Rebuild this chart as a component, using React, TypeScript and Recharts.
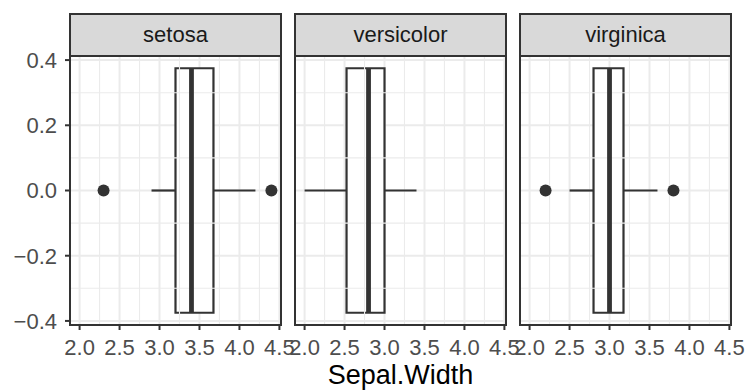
import React from "react";
import {
  ComposedChart,
  XAxis,
  YAxis,
  CartesianGrid,
  ReferenceArea,
  ReferenceLine,
  Scatter,
} from "recharts";

const species = ["setosa", "versicolor", "virginica"];
const lowerWhisker = [2.9, 2.0, 2.5];
const q1 = [3.2, 2.525, 2.8];
const median = [3.4, 2.8, 3.0];
const q3 = [3.675, 3.0, 3.175];
const upperWhisker = [4.2, 3.4, 3.6];
const outliers = [[2.3, 4.4], [], [2.2, 3.8]];

const xTicks = [2.0, 2.5, 3.0, 3.5, 4.0, 4.5];
const xMinor = [2.25, 2.75, 3.25, 3.75, 4.25];
const yTicks = [-0.4, -0.2, 0, 0.2, 0.4];
const yMinor = [-0.3, -0.1, 0.1, 0.3];

const X_DOMAIN: [number, number] = [1.88, 4.52];
const Y_DOMAIN: [number, number] = [-0.4125, 0.4125];
const BOX_HALF = 0.375;

const FONT = "'Liberation Sans', Arial, Helvetica, sans-serif";
const INK = "#333333";
const GRID = "#EBEBEB";

const fmt = (v: number) =>
  v < 0 ? "\u2212" + Math.abs(v).toFixed(1) : v.toFixed(1);

// plot area layout in page pixels
const PANEL_TOP = 56;
const PANEL_H = 269;
const PANEL_W = 211;
const PAD = 20;
const panelLeft = [70, 295, 520];

function Panel({ i }: { i: number }) {
  const first = i === 0;
  const yw = first ? 70 : 0;
  const left = first ? 0 : panelLeft[i] - PAD;
  const width = yw + (first ? 0 : PAD) + PANEL_W + PAD;
  const pts = outliers[i].map((x) => ({ x, y: 0 }));
  return (
    <div style={{ position: "absolute", left, top: PANEL_TOP - PAD }}>
      <ComposedChart
        width={width}
        height={PAD + PANEL_H + 40}
        margin={{ top: PAD, right: PAD, bottom: 0, left: first ? 0 : PAD }}
      >
        <CartesianGrid stroke={GRID} strokeWidth={2} />
        <XAxis
          type="number"
          dataKey="x"
          domain={X_DOMAIN}
          ticks={xTicks}
          interval={0}
          allowDataOverflow
          tickFormatter={fmt}
          axisLine={false}
          tickSize={5}
          tickMargin={9}
          height={40}
          tickLine={{ stroke: INK, strokeWidth: 2 }}
          tick={{ fill: "#4D4D4D", fontSize: 22, fontFamily: FONT }}
        />
        <YAxis
          type="number"
          dataKey="y"
          domain={Y_DOMAIN}
          ticks={yTicks}
          interval={0}
          allowDataOverflow
          hide={!first}
          width={yw}
          tickFormatter={fmt}
          axisLine={false}
          tickSize={5}
          tickMargin={8}
          tickLine={{ stroke: INK, strokeWidth: 2 }}
          tick={{ fill: "#4D4D4D", fontSize: 22, fontFamily: FONT }}
        />
        {xMinor.map((v) => (
          <ReferenceLine key={"xm" + v} x={v} stroke={GRID} strokeWidth={1.1} />
        ))}
        {yMinor.map((v) => (
          <ReferenceLine key={"ym" + v} y={v} stroke={GRID} strokeWidth={1.1} />
        ))}
        <ReferenceLine
          segment={[
            { x: lowerWhisker[i], y: 0 },
            { x: q1[i], y: 0 },
          ]}
          stroke={INK}
          strokeWidth={2.2}
        />
        <ReferenceLine
          segment={[
            { x: q3[i], y: 0 },
            { x: upperWhisker[i], y: 0 },
          ]}
          stroke={INK}
          strokeWidth={2.2}
        />
        <ReferenceArea
          x1={q1[i]}
          x2={q3[i]}
          y1={-BOX_HALF}
          y2={BOX_HALF}
          fill="#FFFFFF"
          fillOpacity={1}
          stroke={INK}
          strokeWidth={2.2}
        />
        <ReferenceLine
          segment={[
            { x: median[i], y: -BOX_HALF },
            { x: median[i], y: BOX_HALF },
          ]}
          stroke={INK}
          strokeWidth={4.8}
        />
        {pts.length > 0 && (
          <Scatter
            data={pts}
            dataKey="y"
            isAnimationActive={false}
            shape={(p: any) => <circle cx={p.cx} cy={p.cy} r={6} fill={INK} />}
          />
        )}
      </ComposedChart>
      {/* panel border */}
      <div
        style={{
          position: "absolute",
          left: (first ? yw : PAD) - 1,
          top: PAD - 1,
          width: PANEL_W + 2,
          height: PANEL_H + 2,
          border: `2px solid ${INK}`,
          boxSizing: "border-box",
          pointerEvents: "none",
        }}
      />
    </div>
  );
}

export default function App() {
  return (
    <div
      style={{
        position: "absolute",
        left: 0,
        top: 0,
        width: 747,
        height: 392,
        background: "#FFFFFF",
        fontFamily: FONT,
        overflow: "hidden",
      }}
    >
      {species.map((s, i) => (
        <div
          key={s}
          style={{
            position: "absolute",
            left: panelLeft[i] - 1,
            top: 13,
            width: PANEL_W + 2,
            height: PANEL_TOP - 13 + 1,
            background: "#D9D9D9",
            border: `2px solid ${INK}`,
            boxSizing: "border-box",
            display: "flex",
            alignItems: "center",
            justifyContent: "center",
            fontSize: 22,
            color: "#1A1A1A",
          }}
        >
          {s}
        </div>
      ))}
      {species.map((s, i) => (
        <Panel key={s} i={i} />
      ))}
      <div
        style={{
          position: "absolute",
          left: 70,
          width: 661,
          top: 358,
          textAlign: "center",
          fontSize: 27,
          color: "#000000",
          lineHeight: "34px",
        }}
      >
        Sepal.Width
      </div>
    </div>
  );
}
